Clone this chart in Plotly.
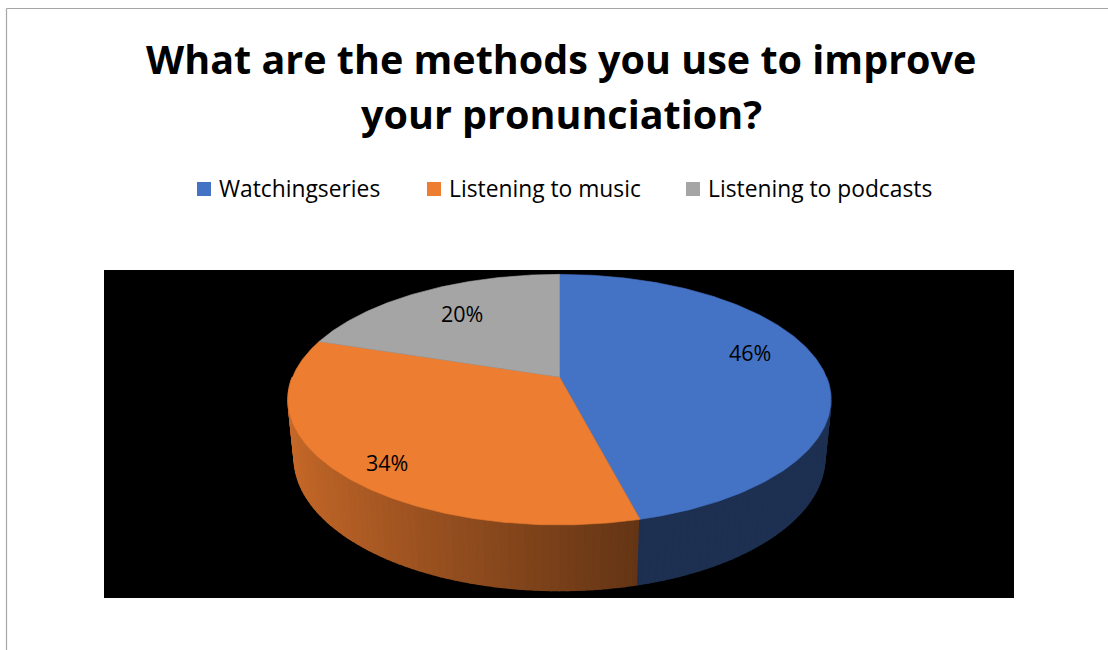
import numpy as np
import plotly.graph_objects as go

# ---- data ----
categories = ["Watchingseries", "Listening to music", "Listening to podcasts"]
shares = [46, 34, 20]
top_colors = ["#4472C4", "#ED7D31", "#A5A5A5"]
title_lines = ["What are the methods you use to improve", "your pronunciation?"]

# ---- 3D pie geometry (perspective projection into a pixel-sized axis) ----
W, H = 1108, 650
CX, CY = 559.5, 377.0          # projected pie centre
ELEV = np.radians(27.0)        # viewing elevation
RAD = 0.203                    # pie radius relative to camera distance
FOCAL = 1315.0
THICK = 0.05                   # side height relative to camera distance
START = 90.0                   # first slice starts at 12 o'clock, clockwise
FONT = "Open Sans"

# label placement: radial fraction and small vertical shift (px)
label_frac = [0.73, 0.80, 0.68]
label_shift = [-14, 12, -3]


def project(t_deg, r_frac=1.0, z=0.0):
    t = np.radians(t_deg)
    X = RAD * r_frac * np.cos(t)
    Y = RAD * r_frac * np.sin(t)
    depth = 1.0 + Y * np.cos(ELEV) - z * np.sin(ELEV)
    sx = FOCAL * X / depth
    sy = FOCAL * (Y * np.sin(ELEV) + z * np.cos(ELEV)) / depth
    return CX + sx, CY - sy


def shade(hex_color, f):
    h = hex_color.lstrip("#")
    rgb = [int(h[i:i + 2], 16) for i in (0, 2, 4)]
    return "rgb({},{},{})".format(*[int(round(c * f)) for c in rgb])


total = float(sum(shares))
bounds = [START]
for v in shares:
    bounds.append(bounds[-1] - 360.0 * v / total)

fig = go.Figure()

# side wall (front half), drawn as thin shaded quads
side_t = np.linspace(180.0, 360.0, 121)
extra = [b % 360 for b in bounds if 180.0 < (b % 360) < 360.0]
side_t = np.unique(np.concatenate([side_t, extra]))


def slice_of(angle):
    for i in range(len(shares)):
        hi, lo = bounds[i], bounds[i + 1]
        for k in (-360, 0, 360):
            if lo <= angle + k <= hi:
                return i
    return 0


for t1, t2 in zip(side_t[:-1], side_t[1:]):
    mid = 0.5 * (t1 + t2)
    idx = slice_of(mid)
    light = np.clip((-np.cos(np.radians(mid)) + 0.25) / 1.25, 0, 1)
    f = 0.42 + 0.43 * light
    col = shade(top_colors[idx], f)
    xa, ya = project(t1)
    xb, yb = project(t2)
    xc, yc = project(t2, 1.0, -THICK)
    xd, yd = project(t1, 1.0, -THICK)
    fig.add_trace(go.Scatter(
        x=[xa, xb, xc, xd, xa], y=[ya, yb, yc, yd, ya],
        mode="lines", fill="toself", fillcolor=col,
        line=dict(color=col, width=1.6), hoverinfo="skip", showlegend=False))

# top face slices
for i, name in enumerate(categories):
    ts = np.linspace(bounds[i], bounds[i + 1], 200)
    px, py = project(ts)
    xs = np.concatenate([[CX], px, [CX]])
    ys = np.concatenate([[CY], py, [CY]])
    fig.add_trace(go.Scatter(
        x=xs, y=ys, mode="lines", fill="toself", fillcolor=top_colors[i],
        line=dict(color=top_colors[i], width=0.6), name=name,
        hovertemplate=f"{name}: {shares[i]}%<extra></extra>", showlegend=False))

# percentage labels
annotations = []
for i, v in enumerate(shares):
    mid = 0.5 * (bounds[i] + bounds[i + 1])
    lx, ly = project(mid, label_frac[i])
    annotations.append(dict(
        x=lx, y=ly + label_shift[i], xref="x", yref="y", text=f"{v}%",
        showarrow=False, font=dict(family=FONT, size=21.5, color="#000000")))

# title, one annotation per line
for line, ty in zip(title_lines, [59, 114]):
    annotations.append(dict(
        x=561, y=ty, xref="x", yref="y", text=line, showarrow=False,
        xanchor="center", yanchor="middle",
        font=dict(family=FONT, size=39.5, color="#000000", weight="bold")))

# legend (square key + text)
legend_x = [197, 427, 686]
shapes = [
    dict(type="rect", xref="x", yref="y", x0=104, x1=1014, y0=270, y1=598,
         fillcolor="#000000", line=dict(width=0), layer="below"),
    dict(type="line", xref="x", yref="y", x0=6.5, x1=6.5, y0=8.5, y1=700,
         line=dict(color="#A6A6A6", width=1.2)),
    dict(type="line", xref="x", yref="y", x0=6.5, x1=1200, y0=8.5, y1=8.5,
         line=dict(color="#A6A6A6", width=1.2)),
]
for i, name in enumerate(categories):
    x0 = legend_x[i]
    shapes.append(dict(type="rect", xref="x", yref="y", x0=x0, x1=x0 + 14,
                       y0=182, y1=196, fillcolor=top_colors[i], line=dict(width=0)))
    annotations.append(dict(
        x=x0 + 20, y=188, xref="x", yref="y", text=name, showarrow=False,
        xanchor="left", yanchor="middle",
        font=dict(family=FONT, size=22.8, color="#000000")))

fig.update_layout(
    width=W, height=H, margin=dict(l=0, r=0, t=0, b=0),
    paper_bgcolor="#FFFFFF", plot_bgcolor="#FFFFFF",
    xaxis=dict(range=[0, W], visible=False, fixedrange=True),
    yaxis=dict(range=[H, 0], visible=False, fixedrange=True),
    shapes=shapes, annotations=annotations, showlegend=False,
)

fig.write_html("out.html")
